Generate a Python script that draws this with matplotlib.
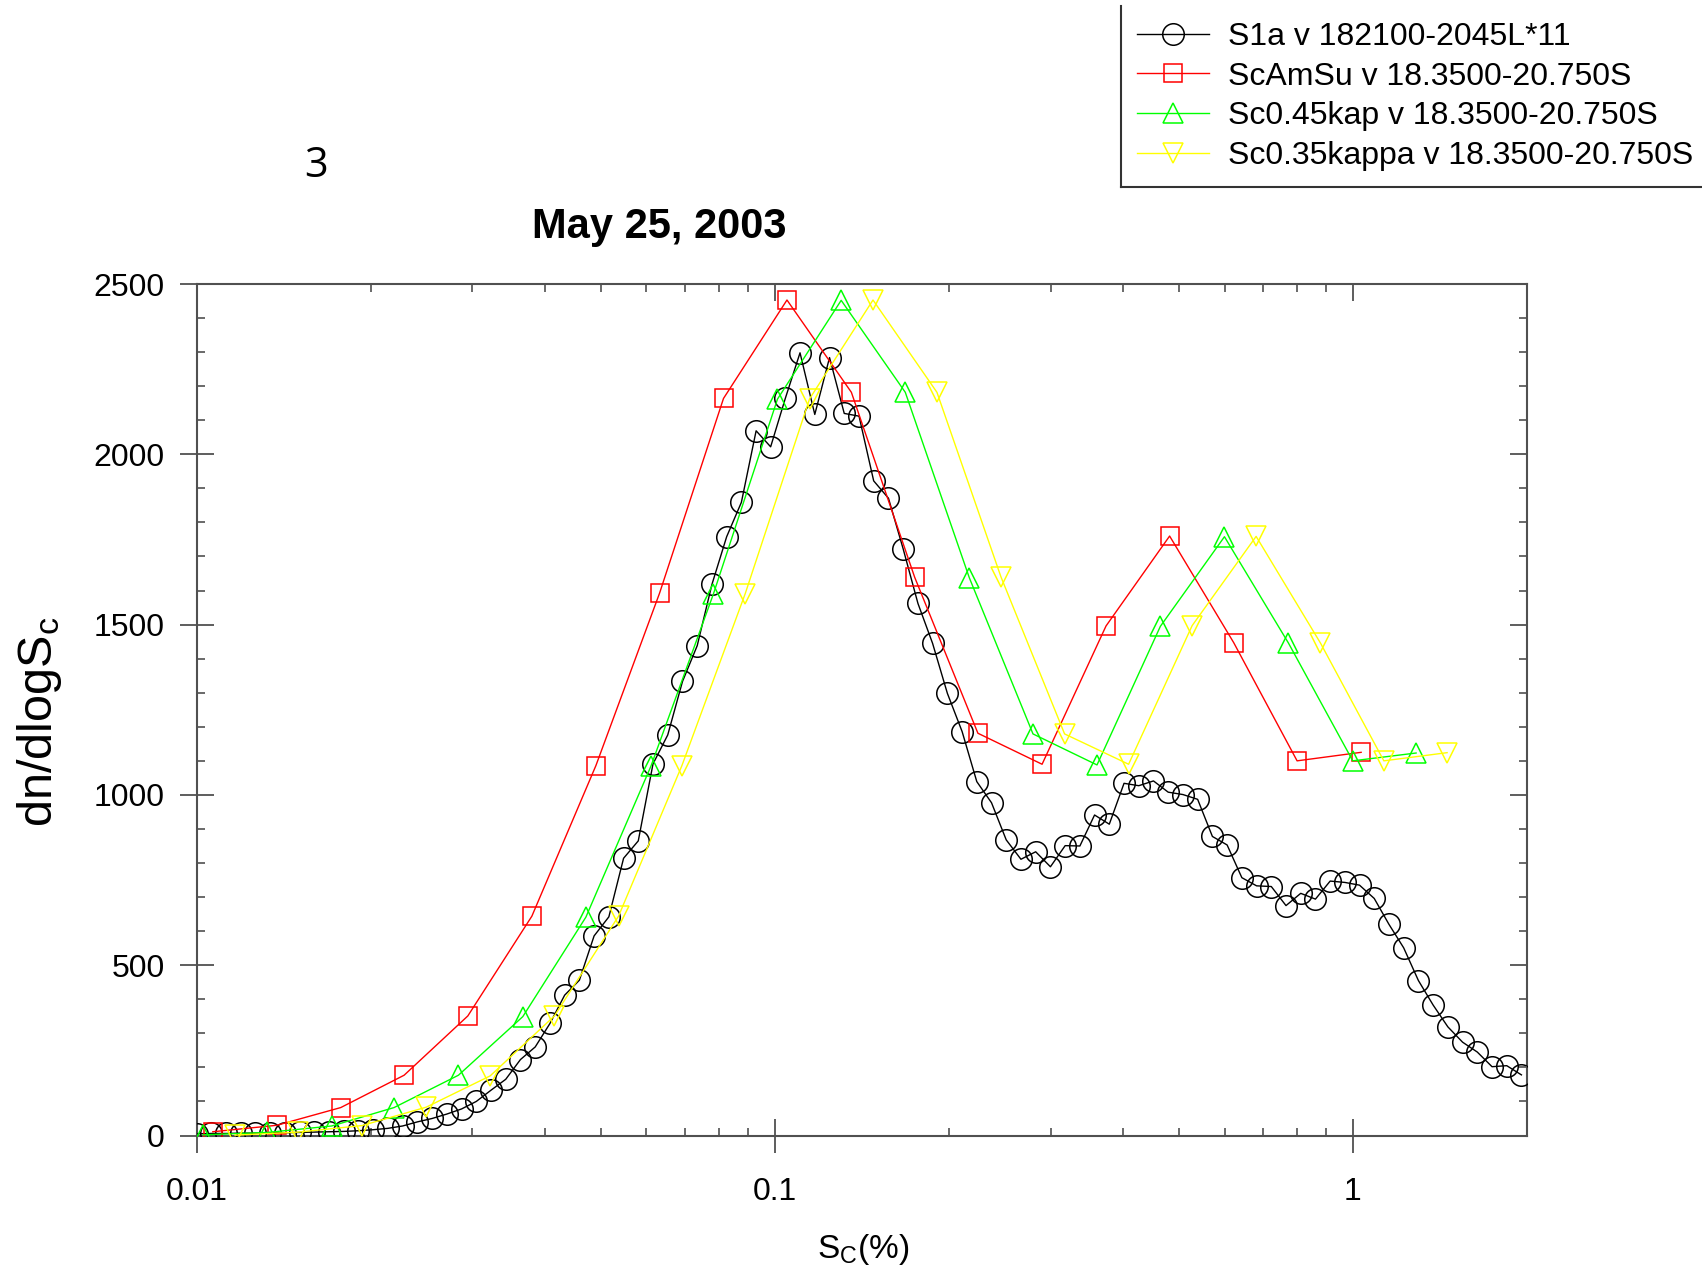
import matplotlib
matplotlib.use('Agg')
import matplotlib.pyplot as plt
from matplotlib.ticker import FixedLocator, FixedFormatter, MultipleLocator, NullFormatter
from matplotlib.lines import Line2D

plt.rcParams['font.family'] = ['Liberation Sans', 'DejaVu Sans']
plt.rcParams['mathtext.fontset'] = 'custom'
plt.rcParams['mathtext.rm'] = 'Liberation Sans'
plt.rcParams['mathtext.it'] = 'Liberation Sans:italic'

# ---------------- data ----------------
s1a_x = [0.01000, 0.01060, 0.01124, 0.01192, 0.01264, 0.01341, 0.01422, 0.01508, 0.01599, 0.01695,
         0.01798, 0.01906, 0.02021, 0.02143, 0.02273, 0.02410, 0.02556, 0.02710, 0.02874, 0.03047,
         0.03231, 0.03426, 0.03633, 0.03853, 0.04086, 0.04332, 0.04594, 0.04871, 0.05166, 0.05478,
         0.05808, 0.06159, 0.06531, 0.06926, 0.07344, 0.07788, 0.08258, 0.08757, 0.09286, 0.09839,
         0.1043, 0.1106, 0.1173, 0.1244, 0.1319, 0.1399, 0.1483, 0.1573, 0.1668, 0.1769,
         0.1875, 0.1989, 0.2109, 0.2236, 0.2371, 0.2514, 0.2666, 0.2827, 0.2998, 0.3179,
         0.3371, 0.3574, 0.3790, 0.4019, 0.4262, 0.4519, 0.4792, 0.5082, 0.5388, 0.5714,
         0.6059, 0.6425, 0.6813, 0.7224, 0.7660, 0.8123, 0.8613, 0.9133, 0.9685, 1.0265,
         1.0885, 1.1542, 1.2239, 1.2978, 1.3762, 1.4593, 1.5474, 1.6409, 1.7400, 1.845,
         1.956]
s1a_y = [5, 6, 6, 7, 7, 8, 8, 9, 10, 11,
         12, 14, 17, 21, 28, 40, 50, 63, 78, 100,
         133, 165, 223, 260, 329, 412, 456, 586, 642, 814,
         865, 1091, 1176, 1333, 1438, 1618, 1758, 1859, 2069, 2022,
         2164, 2298, 2117, 2284, 2120, 2112, 1922, 1871, 1722, 1562,
         1445, 1298, 1186, 1039, 977, 868, 811, 833, 789, 851,
         850, 941, 914, 1034, 1027, 1041, 1008, 1001, 987, 878,
         853, 757, 733, 731, 675, 711, 694, 747, 743, 735,
         696, 620, 551, 455, 383, 319, 274, 245, 202, 205,
         178]

amsu_x = [0.01067, 0.01377, 0.01776, 0.02286, 0.02946, 0.03802, 0.04906, 0.06321, 0.08155, 0.1050,
          0.1357, 0.1746, 0.2246, 0.2900, 0.3741, 0.4819, 0.6220, 0.8006, 1.0332]
amsu_y = [11, 30, 82, 177, 351, 644, 1086, 1592, 2164, 2453,
          2182, 1639, 1181, 1090, 1496, 1760, 1447, 1100, 1125]

k045_x = [0.01027, 0.01326, 0.01714, 0.02196, 0.02838, 0.03667, 0.04714, 0.06107, 0.07834, 0.1011,
          0.1303, 0.1682, 0.2171, 0.2797, 0.3609, 0.4645, 0.5995, 0.7734, 0.9993, 1.286]
k045_y = [2, 9, 28, 82, 177, 349, 641, 1084, 1590, 2162,
          2452, 2182, 1637, 1179, 1088, 1495, 1758, 1446, 1100, 1123]

k035_x = [0.01166, 0.01500, 0.01931, 0.02495, 0.03220, 0.04159, 0.05369, 0.06910, 0.08892, 0.1149,
          0.1479, 0.1908, 0.2462, 0.3172, 0.4093, 0.5271, 0.6801, 0.8786, 1.131, 1.455]
k035_y = [1, 10, 29, 83, 175, 351, 644, 1086, 1591, 2163,
          2453, 2182, 1640, 1179, 1090, 1497, 1759, 1446, 1100, 1124]

labels = ['S1a v 182100-2045L*11',
          'ScAmSu v 18.3500-20.750S',
          'Sc0.45kap v 18.3500-20.750S',
          'Sc0.35kappa v 18.3500-20.750S']
x_ticks = [0.01, 0.1, 1]
x_ticklabels = ['0.01', '0.1', '1']
y_ticks = [0, 500, 1000, 1500, 2000, 2500]

# ---------------- figure ----------------
W, H = 1702, 1270
fig = plt.figure(figsize=(W / 100, H / 100), dpi=100)
L, R, T, B = 196.5, 1527, 284, 1135.5
ax = fig.add_axes([L / W, 1 - B / H, (R - L) / W, (B - T) / H])

axis_col = '#505050'
lw_line = 1.0
series = [
    (s1a_x, s1a_y, 'black', 'o', 15.5),
    (amsu_x, amsu_y, '#ff0000', 's', 13.5),
    (k045_x, k045_y, '#00ff00', '^', 14.5),
    (k035_x, k035_y, '#ffff00', 'v', 14.5),
]
handles = []
for (xs, ys, c, m, ms), lab in zip(series, labels):
    ln, = ax.plot(xs, ys, color=c, lw=lw_line, marker=m, ms=ms, mfc='none',
                  mec=c, mew=1.1, label=lab, zorder=3)
    handles.append(ln)

ax.set_xscale('log')
ax.set_xlim(0.01, 2.0)
ax.set_ylim(0, 2500)

ax.xaxis.set_major_locator(FixedLocator(x_ticks))
ax.xaxis.set_major_formatter(FixedFormatter(x_ticklabels))
minor_x = [m * d for d in (0.01, 0.1, 1) for m in range(2, 10) if m * d <= 2.0]
ax.xaxis.set_minor_locator(FixedLocator(minor_x))
ax.xaxis.set_minor_formatter(NullFormatter())
ax.yaxis.set_major_locator(FixedLocator(y_ticks))
ax.yaxis.set_minor_locator(MultipleLocator(100))

for sp in ax.spines.values():
    sp.set_color(axis_col)
    sp.set_linewidth(1.5)

ax.tick_params(which='major', direction='inout', length=24, width=1.3, color=axis_col,
               labelsize=23)
ax.tick_params(axis='x', which='major', pad=18)
ax.tick_params(axis='y', which='major', pad=11)
ax.tick_params(which='minor', direction='in', length=6, width=1.2, color=axis_col)
ax.tick_params(top=False, right=False, which='both')

# right / top axes with inward ticks only
axr = ax.twinx()
axr.set_ylim(0, 2500)
axr.yaxis.set_major_locator(FixedLocator(y_ticks))
axr.yaxis.set_minor_locator(MultipleLocator(100))
axr.tick_params(which='major', direction='in', length=12, width=1.3, color=axis_col, labelright=False)
axr.tick_params(which='minor', direction='in', length=6, width=1.2, color=axis_col)
for sp in axr.spines.values():
    sp.set_visible(False)

axt = ax.twiny()
axt.set_xscale('log')
axt.set_xlim(0.01, 2.0)
axt.xaxis.set_major_locator(FixedLocator(x_ticks))
axt.xaxis.set_minor_locator(FixedLocator(minor_x))
axt.xaxis.set_minor_formatter(NullFormatter())
axt.tick_params(which='major', direction='in', length=12, width=1.3, color=axis_col, labeltop=False)
axt.tick_params(which='minor', direction='in', length=6, width=1.2, color=axis_col)
for sp in axt.spines.values():
    sp.set_visible(False)

# texts
fig.text(863 / W, 1 - 1258 / H, r'S$_{\mathrm{C}}$(%)', fontsize=24, ha='center', va='baseline')
fig.text(40 / W, 1 - 722 / H, r'dn/dlogS$_{\mathrm{c}}$', fontsize=35, rotation=90,
         ha='center', va='center')
fig.text(659 / W, 1 - 238 / H, 'May 25, 2003', fontsize=30, fontweight='bold',
         ha='center', va='baseline')
fig.text(316 / W, 1 - 177 / H, '3', fontsize=30, ha='center', va='baseline',
         family=['Open Sans', 'DejaVu Sans'])

leg = fig.legend(handles=handles, loc='upper left', bbox_to_anchor=(1121 / W, 0.9952),
                 frameon=False, fontsize=23, handlelength=2.25,
                 handletextpad=0.6, labelspacing=0.3, borderpad=0.5, borderaxespad=0,
                 numpoints=1)

# legend box: only left and bottom edges fall inside the picture
box_l, box_b, box_t = 1121, 187, 6
fig.add_artist(Line2D([box_l / W, box_l / W], [1 - box_t / H, 1 - box_b / H],
                      transform=fig.transFigure, color='#333333', lw=1.5))
fig.add_artist(Line2D([box_l / W, 1.0], [1 - box_b / H, 1 - box_b / H],
                      transform=fig.transFigure, color='#333333', lw=1.5))

fig.savefig('out.png', dpi=100)
